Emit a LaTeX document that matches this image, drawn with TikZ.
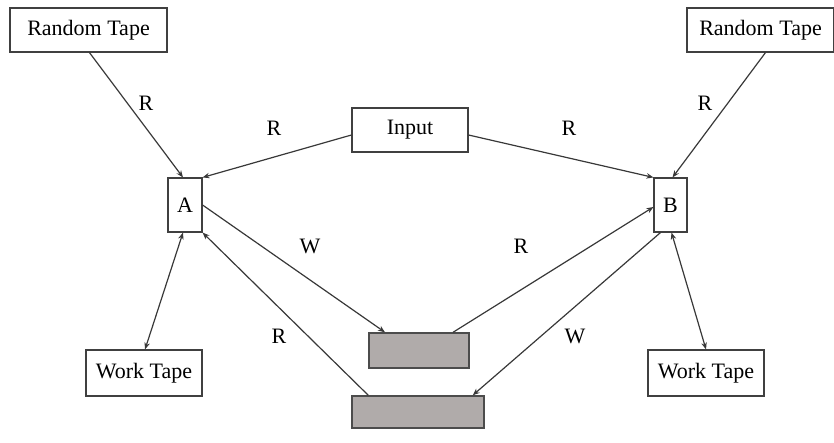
\documentclass[tikz,border=0pt]{standalone}
\usepackage{fontspec}
\setmainfont{Liberation Serif}
\usetikzlibrary{arrows.meta}
\definecolor{tapegray}{RGB}{176,171,170}
\begin{document}
\begin{tikzpicture}[x=1pt,y=-1pt,
  box/.style={draw=black!75,line width=1.1pt,fill=white,inner sep=0pt,font=\fontsize{22}{22}\selectfont},
  tape/.style={box,minimum height=44pt},
  gray box/.style={draw=black!70,line width=1.4pt,fill=tapegray,inner sep=0pt},
  conn/.style={draw=black!78,line width=1.2pt,-{Stealth[length=7pt,width=5.5pt]}},
  both/.style={conn,{Stealth[length=7pt,width=5.5pt]}-{Stealth[length=7pt,width=5.5pt]}},
  lbl/.style={font=\fontsize{22}{22}\selectfont,inner sep=0pt}]
\useasboundingbox (0,0) rectangle (834,443);
% storage and machines
\node[tape,minimum width=157pt] (rtl) at (88.5,30) {Random Tape};
\node[tape,minimum width=147pt] (rtr) at (760.5,30) {Random Tape};
\node[tape,minimum width=116pt] (in) at (410,130) {Input};
\node[box,minimum width=34pt,minimum height=54pt] (A) at (185,205) {A};
\node[box,minimum width=33pt,minimum height=54pt] (B) at (670.5,205) {B};
\node[tape,minimum width=116pt,minimum height=46pt] (wtl) at (144,373) {Work Tape};
\node[tape,minimum width=116pt,minimum height=46pt] (wtr) at (706,373) {Work Tape};
\node[gray box,minimum width=100pt,minimum height=35pt] (g1) at (419,350.5) {};
\node[gray box,minimum width=132pt,minimum height=32pt] (g2) at (418,412) {};
% read/write connections
\draw[conn] (rtl.south west) ++(80,0) coordinate (p1) -- ([xshift=-2pt]A.north);
\draw[conn] ([xshift=5pt]rtr.south) -- ([xshift=2pt]B.north);
\draw[conn] ([yshift=-5pt]in.west) -- (A.north east);
\draw[conn] ([yshift=-5pt]in.east) -- (B.north west);
\draw[conn] (A.east) -- ([xshift=-34pt]g1.north);
\draw[conn] ([xshift=34pt]g1.north) -- ([yshift=-2pt]B.west);
\draw[conn] ([xshift=-10pt]B.south) -- ([xshift=-12pt]g2.north east);
\draw[conn] ([xshift=17pt]g2.north west) -- (A.south east);
\draw[both] ([xshift=-2pt]A.south) -- ([xshift=1pt]wtl.north);
\draw[both] ([xshift=1pt]B.south) -- (wtr.north);
% access labels
\node[lbl] (l1) at (146,103) {R};
\node[lbl] (l2) at (705,103) {R};
\node[lbl] (l3) at (274,128) {R};
\node[lbl] (l4) at (569,128) {R};
\node[lbl] (l5) at (310,246) {W};
\node[lbl] (l6) at (521,246) {R};
\node[lbl] (l7) at (575,336) {W};
\node[lbl] (l8) at (279,336) {R};
\end{tikzpicture}
\end{document}
